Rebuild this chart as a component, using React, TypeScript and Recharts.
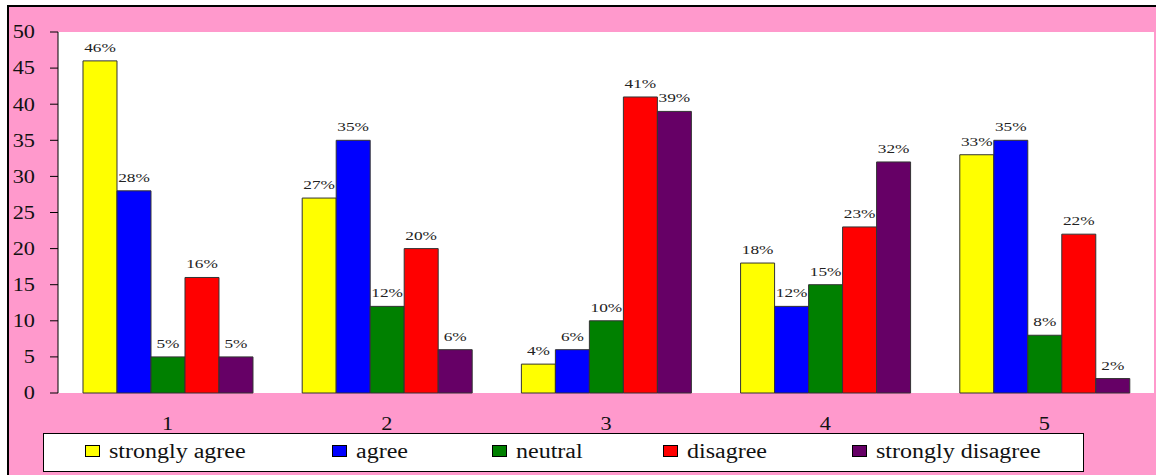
import React from 'react';
import { BarChart, Bar, XAxis, YAxis, CartesianGrid, LabelList } from 'recharts';

const groups = ['1', '2', '3', '4', '5'];
const stronglyAgree = [46, 27, 4, 18, 33];
const agree = [28, 35, 6, 12, 35];
const neutral = [5, 12, 10, 15, 8];
const disagree = [16, 20, 41, 23, 22];
const stronglyDisagree = [5, 6, 39, 32, 2];
const yTicks = [0, 5, 10, 15, 20, 25, 30, 35, 40, 45, 50];

const series = [
  { key: 'sa', name: 'strongly agree', values: stronglyAgree, color: '#FFFF00' },
  { key: 'a', name: 'agree', values: agree, color: '#0000FF' },
  { key: 'n', name: 'neutral', values: neutral, color: '#008000' },
  { key: 'd', name: 'disagree', values: disagree, color: '#FF0000' },
  { key: 'sd', name: 'strongly disagree', values: stronglyDisagree, color: '#660066' },
];

const data = groups.map((g, i) => {
  const row: any = { group: g };
  series.forEach((s) => (row[s.key] = s.values[i]));
  return row;
});

const FONT = '"Liberation Serif"';
// legend item left edges inside the page
const legendX = [85, 332, 492, 663, 852];

const YTick = ({ x, y, payload }: any) => (
  <g transform={`translate(${x},${y})`}>
    <text textAnchor="end" dy="0.35em" fontSize={18} style={{ fontFamily: FONT }} fill="#111" transform="scale(1.24,1)">
      {payload.value}
    </text>
  </g>
);

const XTick = ({ x, y, payload }: any) => (
  <g transform={`translate(${x},${y + 35})`}>
    <text textAnchor="middle" fontSize={18} style={{ fontFamily: FONT }} fill="#111" transform="scale(1.24,1)">
      {payload.value}
    </text>
  </g>
);

const ValueLabel = ({ x, y, width, value }: any) => (
  <g transform={`translate(${x + width / 2},${y - 9})`}>
    <text textAnchor="middle" fontSize={13.5} style={{ fontFamily: FONT }} fill="#222" transform="scale(1.28,1)">
      {value}%
    </text>
  </g>
);

export default function App() {
  return (
    <div style={{ position: 'fixed', left: 0, top: 0, width: 1156, height: 475, background: '#fff', overflow: 'hidden', fontFamily: FONT }}>
      <div
        style={{
          position: 'absolute', left: 7, top: 5, right: 0, bottom: 0,
          background: '#FF99CC', borderTop: '2px solid #000', borderLeft: '2px solid #000',
        }}
      />
      <div style={{ position: 'absolute', left: 0, top: 0 }}>
        <BarChart
          width={1156}
          height={475}
          data={data}
          margin={{ top: 32, right: 2, left: 8, bottom: 52 }}
          barCategoryGap="11.4%"
          barGap={0}
        >
          <CartesianGrid xAxisId="cat" horizontal={false} vertical={false} fill="#ffffff" />
          <XAxis
            xAxisId="edges"
            type="number"
            domain={[0, 5]}
            ticks={[0, 1, 2, 3, 4, 5]}
            allowDataOverflow
            height={0}
            tickSize={6}
            tickFormatter={() => ''}
            stroke="#000"
          />
          <XAxis
            xAxisId="cat"
            dataKey="group"
            height={30}
            tickLine={false}
            axisLine={false}
            tickSize={0}
            tick={<XTick />}
          />
          <XAxis
            xAxisId="top"
            orientation="top"
            type="number"
            domain={[0, 5]}
            allowDataOverflow
            height={0}
            tick={false}
            tickLine={false}
            stroke="#9a9a9a"
          />
          <YAxis
            domain={[0, 50]}
            ticks={yTicks}
            width={50}
            tickSize={8}
            tickMargin={15}
            stroke="#000"
            tick={<YTick />}
          />
          <YAxis
            yAxisId="right"
            orientation="right"
            domain={[0, 50]}
            width={0}
            tick={false}
            tickLine={false}
            stroke="#a890a0"
            strokeWidth={2}
          />
          {series.map((s) => (
            <Bar
              key={s.key}
              xAxisId="cat"
              dataKey={s.key}
              name={s.name}
              fill={s.color}
              stroke="#333"
              strokeWidth={1}
              isAnimationActive={false}
            >
              <LabelList dataKey={s.key} content={<ValueLabel />} />
            </Bar>
          ))}
        </BarChart>
      </div>
      <div
        style={{
          position: 'absolute', left: 43, top: 433, width: 1039, height: 37,
          background: '#fff', border: '1.5px solid #000',
        }}
      />
      {series.map((s, i) => (
        <div key={s.key}>
          <div
            style={{
              position: 'absolute', left: legendX[i], top: 445, width: 13, height: 10,
              background: s.color, border: '1px solid #000',
            }}
          />
          <div
            style={{
              position: 'absolute', left: legendX[i] + 24, top: 437, fontSize: 20,
              lineHeight: '28px', color: '#111', whiteSpace: 'nowrap',
              transform: 'scale(1.2,1)', transformOrigin: 'left center',
            }}
          >
            {s.name}
          </div>
        </div>
      ))}
    </div>
  );
}
